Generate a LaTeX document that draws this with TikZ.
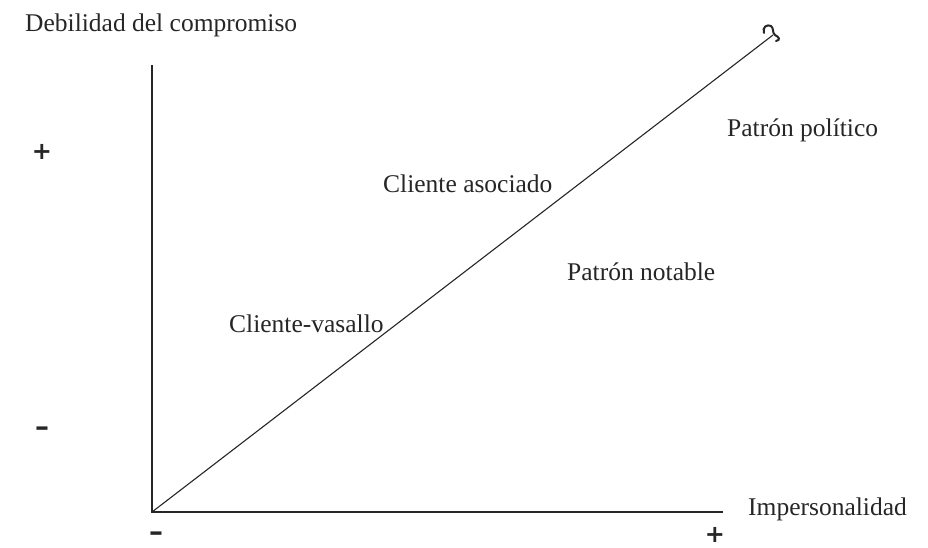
\documentclass[tikz,border=0pt]{standalone}
\usepackage{fontspec}
\usepackage{graphicx}
\setmainfont{Liberation Serif}
\newfontfamily\signfont{DejaVu Sans}
\begin{document}
\begin{tikzpicture}[x=1pt,y=-1pt,
  axis/.style={line width=1.3pt, black!85},
  lbl/.style={font=\fontsize{25.5}{30}\selectfont, text=black!85, inner sep=0pt, anchor=base west},
  sign/.style={font=\signfont\bfseries\fontsize{24}{25}\selectfont, text=black!85, inner sep=0pt}]
\useasboundingbox (0,0) rectangle (928,548);
\coordinate (o) at (152,512);
\coordinate (t) at (152,65);
\coordinate (r) at (723,512);
\coordinate (d) at (773,35);
\draw[axis] (t) -- (o) -- (r);
\draw[line width=1.1pt, black!85] (o) -- (d);
\draw[line width=2pt, black!85, line cap=round]
  (764,33) .. controls (762,27) and (767,24) .. (771,26)
  .. controls (774,28) and (772,33) .. (775,35)
  .. controls (779,37) and (781,40) .. (776,41);
\node[lbl] (ylab) at (25,32) {Debilidad del compromiso};
\node[lbl] (xlab) at (748,515) {Impersonalidad};
\node[lbl] (pp) at (727,137) {Patrón político};
\node[lbl] (ca) at (383,193) {Cliente asociado};
\node[lbl] (pn) at (567,280) {Patrón notable};
\node[lbl] (cv) at (229,332) {Cliente-vasallo};
\node[sign] (yp) at (42,152) {+};
\node[sign] (ym) at (42,431) {\scalebox{1.5}[1]{-}};
\node[sign] (xm) at (156,536) {\scalebox{1.5}[1]{-}};
\node[sign] (xp) at (715,535) {+};
\end{tikzpicture}
\end{document}
